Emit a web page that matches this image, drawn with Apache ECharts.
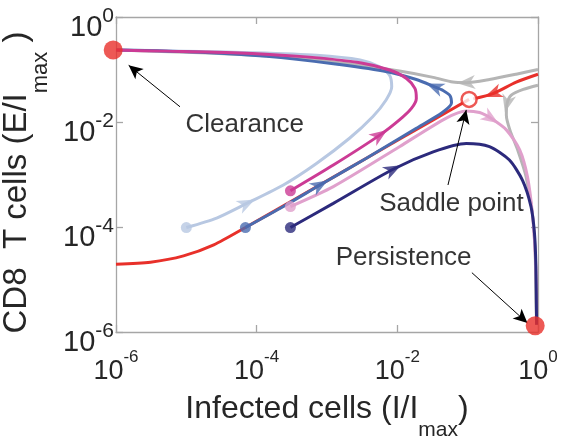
<!DOCTYPE html>
<html>
<head>
<meta charset="utf-8">
<script src="https://cdn.jsdelivr.net/npm/echarts@6/dist/echarts.min.js"></script>
<style>
html, body { margin: 0; background: #fff; }
#chart { width: 563px; height: 438px; }
</style>
</head>
<body>
<div id="chart"></div>
<script>
// all trajectories as [log10(I/Imax), log10(E/Imax)]
const redLeft = [[-6.0, -4.71], [-5.51, -4.67], [-5.04, -4.55], [-4.61, -4.34], [-4.16, -4.01],
	[-3.39, -3.42], [-2.44, -2.69], [-1.49, -1.96], [-0.98, -1.57]]
const redRight = [[0.0, -1.09], [-0.31, -1.24], [-0.64, -1.46], [-0.92, -1.56]]
const lightBlue = [[-5.0, -4.01], [-4.57, -3.83], [-4.14, -3.55], [-3.62, -3.2], [-3.15, -2.79],
	[-2.68, -2.31], [-2.35, -1.9], [-2.16, -1.58], [-2.08, -1.33], [-2.11, -1.11], [-2.25, -0.95],
	[-2.53, -0.82], [-3.15, -0.73], [-4.09, -0.68], [-5.04, -0.65], [-6.0, -0.63]]
const magenta = [[-3.52, -3.31], [-2.91, -2.82], [-2.25, -2.25], [-1.97, -1.96], [-1.8, -1.74],
	[-1.73, -1.55], [-1.75, -1.36], [-1.87, -1.17], [-2.11, -1.01], [-2.53, -0.87], [-3.39, -0.75],
	[-4.33, -0.68], [-5.28, -0.65], [-6.0, -0.63]]
const steelBlue = [[-4.16, -4.01], [-3.62, -3.61], [-3.1, -3.2], [-2.44, -2.69], [-1.73, -2.12],
	[-1.36, -1.82], [-1.23, -1.64], [-1.25, -1.5], [-1.35, -1.4], [-1.47, -1.33], [-1.73, -1.19],
	[-2.2, -1.03], [-2.91, -0.89], [-3.86, -0.75], [-4.8, -0.67], [-6.0, -0.63]]
const pink = [[-3.52, -3.61], [-2.91, -3.23], [-1.97, -2.47], [-1.31, -1.93], [-1.02, -1.79],
	[-0.83, -1.82], [-0.67, -1.93], [-0.45, -2.15], [-0.26, -2.53], [-0.15, -3.04], [-0.08, -3.74],
	[-0.04, -4.5], [-0.02, -5.39], [-0.02, -5.86]]
const navy = [[-3.52, -4.01], [-2.91, -3.55], [-2.06, -2.9], [-1.49, -2.57], [-1.02, -2.41],
	[-0.69, -2.47], [-0.41, -2.72], [-0.22, -3.11], [-0.1, -3.61], [-0.05, -4.12], [-0.03, -4.75],
	[-0.02, -5.86]]
const grayTop = [[0.0, -1.0], [-0.31, -1.09], [-0.69, -1.19], [-1.02, -1.25], [-1.21, -1.24],
	[-1.49, -1.15], [-1.97, -1.03], [-2.68, -0.89], [-3.62, -0.76], [-4.8, -0.68], [-6.0, -0.63]]
const grayRight = [[0.0, -1.3], [-0.21, -1.38], [-0.38, -1.49], [-0.44, -1.65], [-0.45, -1.87],
	[-0.4, -2.15], [-0.29, -2.53], [-0.17, -3.04], [-0.08, -3.74], [-0.04, -4.5], [-0.03, -5.39],
	[-0.02, -5.86]]

const clearance = [-6.04, -0.63]
const persistence = [-0.04, -5.88]
const saddle = [-0.98, -1.57]

// [name, text centre, arrow start, arrow end]
const notes = [
	["Clearance", [-4.17, -2.06], [-5.09, -1.71], [-5.82, -0.92]],
	["Saddle point", [-1.23, -3.55], [-1.28, -3.2], [-1.02, -1.77]],
	["Persistence", [-1.91, -4.58], [-0.94, -4.87], [-0.15, -5.83]],
]

const paths = [
	{ data: grayTop, color: "#b5b5b5", arrows: [3] },
	{ data: grayRight, color: "#b5b5b5", arrows: [3] },
	{ data: lightBlue, color: "#b8c8e2", arrows: [2], start: true },
	{ data: redLeft, color: "#e8302a", arrows: [] },
	{ data: redRight, color: "#e8302a", arrows: [2] },
	{ data: pink, color: "#e0a0cc", arrows: [6], start: true },
	{ data: steelBlue, color: "#4a6cb0", arrows: [2, 9], start: true },
	{ data: magenta, color: "#cc3b95", arrows: [2], start: true },
	{ data: navy, color: "#2c2a7c", arrows: [2], start: true },
]

const pw = (p) => [Math.pow(10, p[0]), Math.pow(10, p[1])]
const font = "Liberation Sans, Arial, sans-serif"
const ink = "#262626"
const axisGray = "#a6a6a6"
const tickFmt = (v) => "{b|10}{s|" + Math.round(Math.log10(v)) + "}"
const tickRich = (big, small) => ({
	b: { fontSize: big, lineHeight: 36, verticalAlign: "bottom", fontFamily: font, color: ink },
	s: { fontSize: small, lineHeight: 20, verticalAlign: "top", fontFamily: font, color: ink },
})
const titleRich = (big, small, h) => ({
	b: { fontSize: big, lineHeight: big + 4, verticalAlign: "top", fontFamily: font, color: ink },
	s: { fontSize: small, lineHeight: h, verticalAlign: "bottom", fontFamily: font, color: ink },
})
const baseAxis = {
	type: "log",
	logBase: 10,
	min: 1e-6,
	max: 1,
	interval: 2,
	splitLine: { show: false },
	minorTick: { show: false },
	axisLine: { show: true, onZero: false, lineStyle: { color: axisGray, width: 1.3 } },
	axisTick: { show: true, inside: true, length: 7, lineStyle: { color: axisGray, width: 1.3 } },
}

let chart = echarts.init(document.getElementById("chart"))
let series = []
paths.forEach((p) => {
	series.push({
		type: "line",
		data: p.data.map(pw),
		showSymbol: false,
		smooth: 0.25,
		lineStyle: { color: p.color, width: 3 },
		silent: true,
	})
})
series.push({
	type: "scatter",
	data: paths.filter((p) => p.start).map((p) => ({ value: pw(p.data[0]), itemStyle: { color: p.color } })),
	symbolSize: 11,
	z: 5,
})
series.push({
	type: "scatter",
	data: [pw(clearance), pw(persistence)],
	symbolSize: 19,
	itemStyle: { color: "#e8302a" },
	clip: false,
	z: 6,
})
series.push({
	type: "scatter",
	data: [pw(saddle)],
	symbolSize: 15,
	itemStyle: { color: "#fff", borderColor: "#e8302a", borderWidth: 2.5 },
	z: 6,
})
series.push({
	type: "scatter",
	data: notes.map((n) => ({ value: pw(n[1]), name: n[0] })),
	symbolSize: 0,
	label: { show: true, position: "inside", formatter: "{b}", fontSize: 26, fontFamily: font, color: "#000" },
	markLine: {
		silent: true,
		symbol: ["none", "arrow"],
		symbolSize: [10, 14],
		label: { show: false },
		lineStyle: { color: "#000", width: 1, type: "solid" },
		data: notes.map((n) => [{ coord: pw(n[2]) }, { coord: pw(n[3]) }]),
	},
	z: 7,
})

let option = {
	animation: false,
	grid: { left: 116, right: 25, top: 17, bottom: 106, outerBoundsMode: "none" },
	xAxis: [
		Object.assign({}, baseAxis, {
			position: "bottom",
			name: "{b|Infected cells (I/I}{s|max}{b|)}",
			nameLocation: "middle",
			nameGap: 61,
			nameTextStyle: { rich: titleRich(32, 21, 48) },
			axisLabel: { formatter: tickFmt, rich: tickRich(27, 17), margin: 17 },
		}),
		Object.assign({}, baseAxis, { position: "top", axisLabel: { show: false } }),
	],
	yAxis: [
		Object.assign({}, baseAxis, {
			position: "left",
			name: "{b|CD8  T cells (E/I}{s|max}{b| )}",
			nameLocation: "middle",
			nameGap: 64,
			nameRotate: 90,
			nameTextStyle: { rich: titleRich(33, 22, 52), padding: [0, 16, 0, 0] },
			axisLabel: { formatter: tickFmt, rich: tickRich(29, 21), margin: 2, padding: [14, 0, 0, 0] },
		}),
		Object.assign({}, baseAxis, { position: "right", axisLabel: { show: false } }),
	],
	series: series,
}
chart.setOption(option)

// arrowheads sit on path points, turned along the local direction in pixels
let heads = []
paths.forEach((p) => {
	p.arrows.forEach((i) => {
		let a = chart.convertToPixel({ gridIndex: 0 }, pw(p.data[i - 1]))
		let b = chart.convertToPixel({ gridIndex: 0 }, pw(p.data[i + 1]))
		let ang = (Math.atan2(-(b[1] - a[1]), b[0] - a[0]) * 180) / Math.PI - 90
		heads.push({ value: pw(p.data[i]), symbolRotate: ang, itemStyle: { color: p.color } })
	})
})
series.push({
	type: "scatter",
	data: heads,
	symbol: "path://M0,0 L7,18 L0,13 L-7,18 Z",
	symbolSize: [14, 18],
	z: 8,
})
chart.setOption({ series: series })
</script>
</body>
</html>
